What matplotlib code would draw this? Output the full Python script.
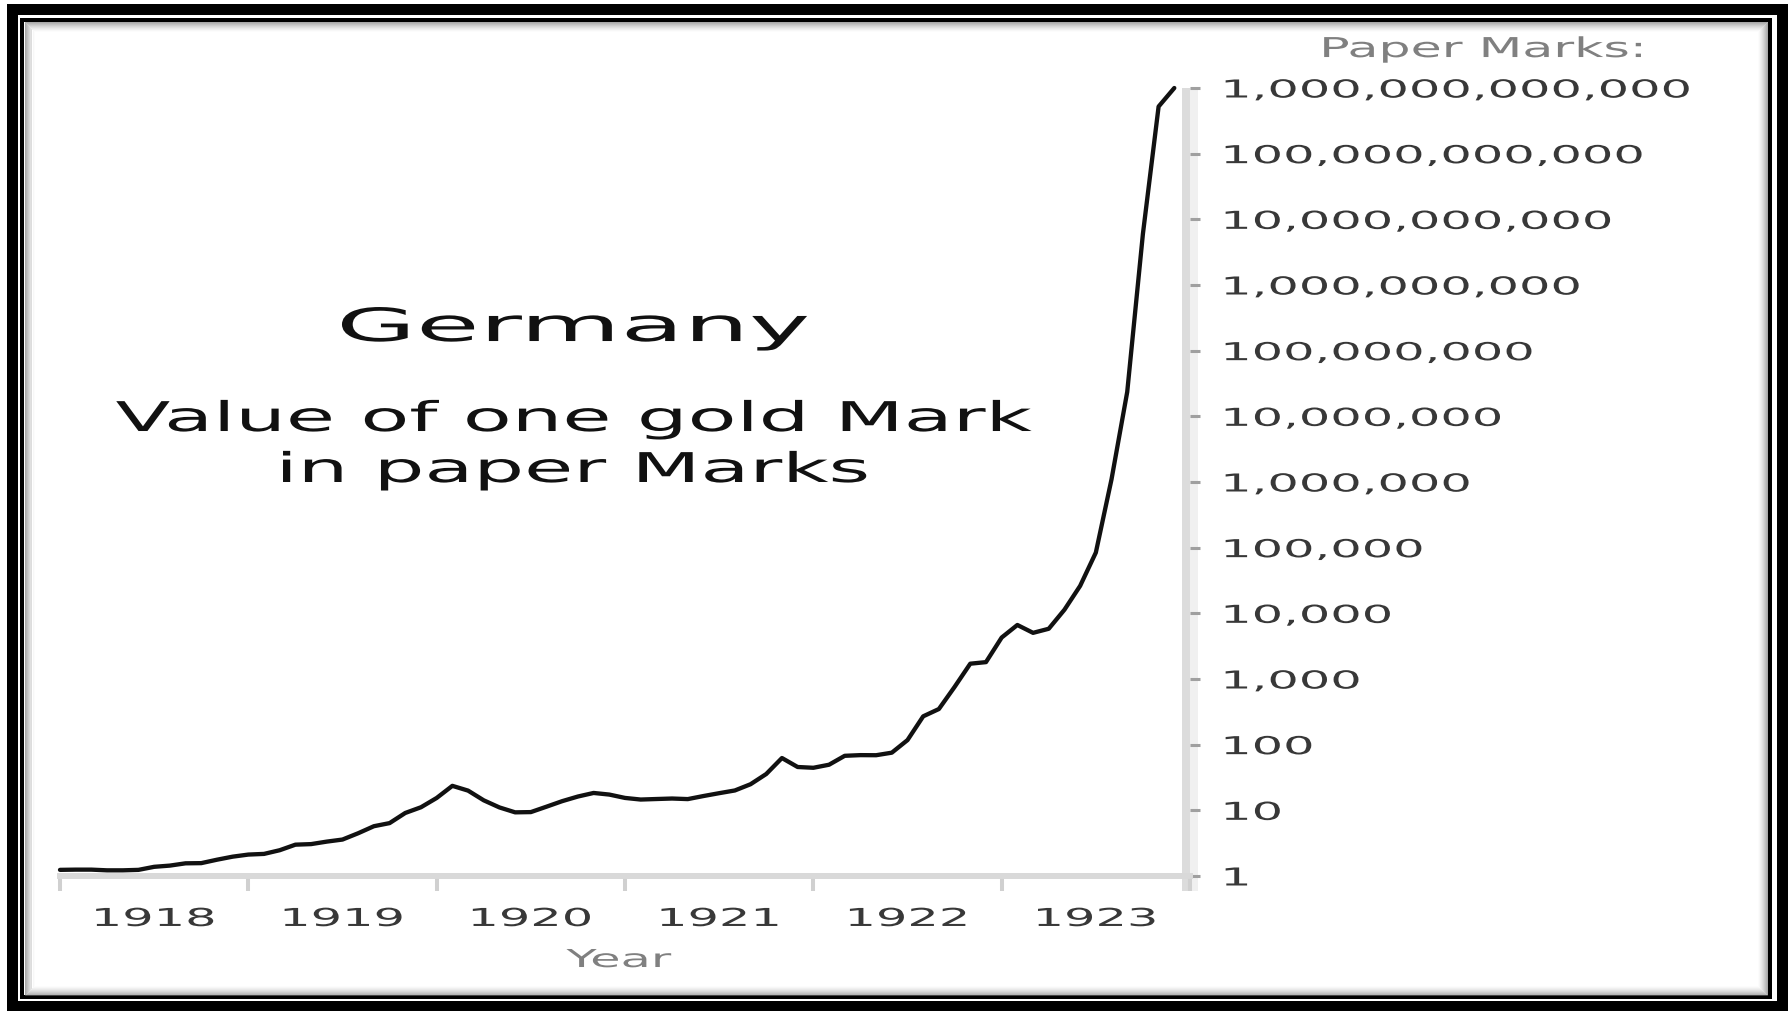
import numpy as np
import matplotlib
matplotlib.use("Agg")
import matplotlib.pyplot as plt
from matplotlib.patches import Rectangle
from matplotlib.patheffects import AbstractPathEffect
from matplotlib.transforms import Affine2D, offset_copy
from matplotlib.ticker import NullLocator

# Value of one gold Mark in paper Marks, monthly (Jan..Dec) 1918-1923
anos = [1918, 1919, 1920, 1921, 1922, 1923]
v1918 = [1.24, 1.25, 1.25, 1.22, 1.22, 1.24, 1.38, 1.44, 1.56, 1.57, 1.77, 1.97]
v1919 = [2.12, 2.17, 2.47, 3.00, 3.06, 3.34, 3.59, 4.48, 5.73, 6.39, 9.12, 11.14]
v1920 = [15.43, 23.60, 19.97, 14.20, 11.07, 9.32, 9.40, 11.37, 13.80, 16.23, 18.39, 17.38]
v1921 = [15.45, 14.60, 14.87, 15.13, 14.83, 16.51, 18.25, 20.07, 24.98, 35.76, 62.61, 45.70]
v1922 = [44.46, 49.48, 67.66, 69.29, 69.07, 75.51, 117.43, 270.13, 349.02, 757.37, 1710.3, 1807.0]
v1923 = [4279, 6647, 5045, 5823, 11350, 26190, 84146, 1100108, 23538095,
         6014335238, 522285714286, 1000000000000]

niveis = [10 ** k for k in range(13)]
rotulos_y = ["1", "10", "100", "1,000", "10,000", "100,000", "1,000,000",
             "10,000,000", "100,000,000", "1,000,000,000", "10,000,000,000",
             "100,000,000,000", "1,000,000,000,000"]

W, H = 1788, 1012


class Widen(AbstractPathEffect):
    """Draws the glyphs stretched horizontally around the left edge or centre."""

    def __init__(self, sx, anchor="center"):
        super().__init__()
        self.sx = sx
        self.anchor = anchor

    def draw_path(self, renderer, gc, tpath, affine, rgbFace=None):
        ext = affine.transform_path(tpath).get_extents()
        x0 = ext.x0 if self.anchor == "left" else (ext.x0 + ext.x1) / 2
        esticar = Affine2D().translate(-x0, 0).scale(self.sx, 1).translate(x0, 0)
        renderer.draw_path(gc, tpath, affine + esticar, rgbFace)


x = np.concatenate([ano + np.arange(12) / 12 for ano in anos])
y = np.concatenate([v1918, v1919, v1920, v1921, v1922, v1923])

fig = plt.figure(figsize=(W / 100, H / 100), dpi=100)
ax = fig.add_axes([60 / W, 1 - 877 / H, 1130 / W, 788 / H])
ax.patch.set_visible(False)

ax.plot(x, y, color="#111111", lw=3.1, clip_on=False, solid_joinstyle="round",
        solid_capstyle="round", zorder=3)

ax.set_yscale("log")
ax.set_ylim(1, 1e12)
ax.set_xlim(1918, 1924)

# eixo y do lado direito
ax.yaxis.tick_right()
ax.set_yticks(niveis)
ax.set_yticklabels(rotulos_y)
ax.yaxis.set_minor_locator(NullLocator())
ax.tick_params(axis="y", which="major", length=7.2, width=2.2, color="#a0a0a0",
               pad=16.5, labelsize=17.8, labelcolor="#383838")

# anos no meio de cada intervalo
ax.set_xticks(range(1918, 1925))
ax.set_xticklabels([])
ax.set_xticks([a + 0.5 for a in anos], minor=True)
ax.set_xticklabels([str(a) for a in anos], minor=True)
ax.tick_params(axis="x", which="major", length=10.8, width=2.9, color="#d0d0d0")
ax.tick_params(axis="x", which="minor", length=0, pad=22.3, labelsize=17.8,
               labelcolor="#383838")

for lado in ["top", "left", "right"]:
    ax.spines[lado].set_visible(False)
ax.spines["bottom"].set_color("#d9d9d9")
ax.spines["bottom"].set_linewidth(4.3)

for dx, c in [(-4, "#dcdcdc"), (4, "#f0f0f0")]:
    tr = offset_copy(ax.transAxes, fig=fig, x=dx, y=0, units="dots")
    ax.plot([1, 1], [-0.019, 1.0], transform=tr, color=c, lw=8 * 0.72,
            clip_on=False, solid_capstyle="butt", zorder=1.2)

ax.set_xlabel("Year", fontsize=17.8, color="#808080")
ax.xaxis.set_label_coords(0.4947, -0.1155)
ax.xaxis.label.set_va("baseline")
ax.xaxis.label.set_path_effects([Widen(2.0)])

ax.text(1.2593, 1.0393, "Paper Marks:", transform=ax.transAxes, ha="center",
        va="baseline", fontsize=19.7, color="#808080", path_effects=[Widen(1.85)])

ax.text(0.4549, 0.6789, "Germany", transform=ax.transAxes, ha="center",
        va="baseline", fontsize=33, color="#111111", path_effects=[Widen(2.25)])
ax.text(0.4549, 0.5647, "Value of one gold Mark", transform=ax.transAxes, ha="center",
        va="baseline", fontsize=29.5, color="#111111", path_effects=[Widen(1.95)])
ax.text(0.4549, 0.5, "in paper Marks", transform=ax.transAxes, ha="center",
        va="baseline", fontsize=29.5, color="#111111", path_effects=[Widen(1.95)])

for lab in ax.get_yticklabels():
    lab.set_path_effects([Widen(2.0, "left")])
for lab in ax.get_xticklabels(minor=True):
    lab.set_path_effects([Widen(2.0)])


# moldura: banda preta exterior, linha fina interior e sombra
def moldura(left, top, right, bottom, lw_px, color, alpha=1.0):
    r = Rectangle((left / W, 1 - bottom / H), (right - left) / W, (bottom - top) / H,
                  transform=fig.transFigure, fill=False, edgecolor=color,
                  linewidth=lw_px * 0.72, alpha=alpha, joinstyle="miter")
    fig.add_artist(r)


moldura(11.5, 9.5, 1781.5, 1007, 11, "black")
moldura(22, 20.5, 1769.5, 998, 4, "black")
for i in range(10):
    moldura(24.5 + i, 22.5 + i, 1766.5 - i, 995.5 - i, 1, "#707070",
            alpha=0.6 * (1 - i / 10) ** 1.5)

fig.savefig("out.png", dpi=100)
